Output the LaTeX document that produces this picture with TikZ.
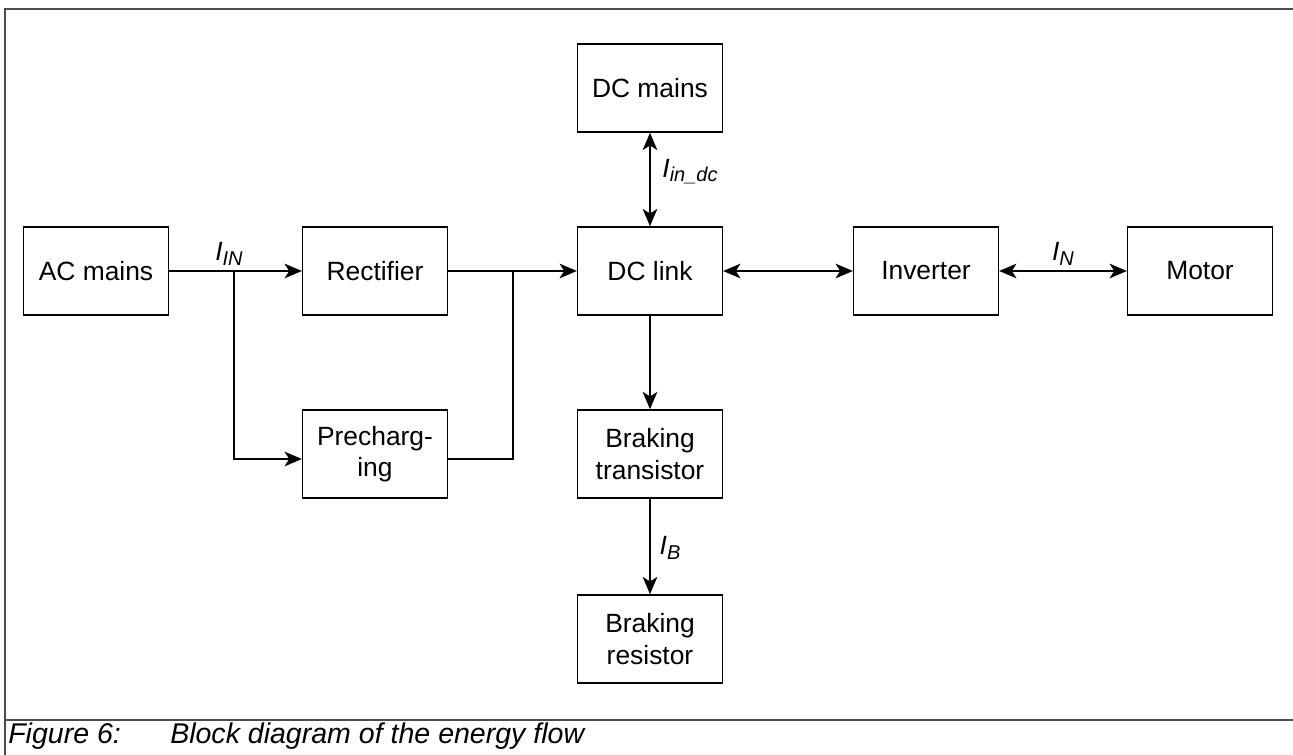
\documentclass[tikz,border=0pt]{standalone}
\usepackage{fontspec}
\setmainfont{Liberation Sans}
\usetikzlibrary{arrows.meta}

\newcommand{\curlabel}[1]{\textit{I}\raisebox{-0.3ex}{\fontsize{15}{16}\selectfont\itshape #1}}

\begin{document}
\begin{tikzpicture}[x=0.75pt,y=-0.75pt,
  >={Stealth[length=13pt,width=11pt,inset=3.5pt]},
  block/.style={draw=black,line width=1.2pt,minimum width=108.5pt,minimum height=66pt,
    align=center,font=\fontsize{19.8}{23.5}\selectfont},
  flow/.style={line width=1.2pt,->},
  bothflow/.style={line width=1.2pt,<->},
  wire/.style={line width=1.2pt},
  curr/.style={font=\fontsize{19.8}{23.5}\selectfont},
  caption/.style={font=\fontsize{21.4}{25}\selectfont\itshape,anchor=base west,inner sep=0pt}]
\useasboundingbox (0,0) rectangle (1293,755);

% frame
\draw[black!70,line width=1.7pt] (1293,9) -- (5,9) -- (5,755);
\draw[black!70,line width=1.7pt] (5,720) -- (1293,720);

% blocks
\node[block] (ac) at (96,271) {AC mains};
\node[block] (rect) at (375,271) {Rectifier};
\node[block] (pre) at (375,454) {Precharg-\\ing};
\node[block] (link) at (650,271) {DC link};
\node[block] (dcm) at (650,88) {DC mains};
\node[block] (inv) at (926,271) {Inverter};
\node[block] (motor) at (1200,271) {Motor};
\node[block] (btr) at (650,454) {Braking\\transistor};
\node[block] (bres) at (650,639) {Braking\\resistor};

% connectors
\coordinate (split) at (234,271);
\coordinate (join) at (513,271);
\draw[flow] (ac) -- (rect);
\draw[flow] (split) |- ([yshift=-3.75pt]pre.west);
\draw[wire] ([yshift=-3.75pt]pre.east) -| (join);
\draw[flow] (rect) -- (link);
\draw[bothflow] (dcm) -- (link);
\draw[bothflow] (link) -- (inv);
\draw[bothflow] (inv) -- (motor);
\draw[flow] (link) -- (btr);
\draw[flow] (btr) -- (bres);

% currents
\node[curr] (iin) at (229,254) {\curlabel{IN}};
\node[curr] (iindc) at (690,172) {\curlabel{in\_dc}};
\node[curr] (in) at (1063,254) {\curlabel{N}};
\node[curr] (ib) at (670,548) {\curlabel{B}};

% caption
\node[caption] (fig) at (8,743) {Figure 6:};
\node[caption] (figtext) at (170,743) {Block diagram of the energy flow};
\end{tikzpicture}
\end{document}
